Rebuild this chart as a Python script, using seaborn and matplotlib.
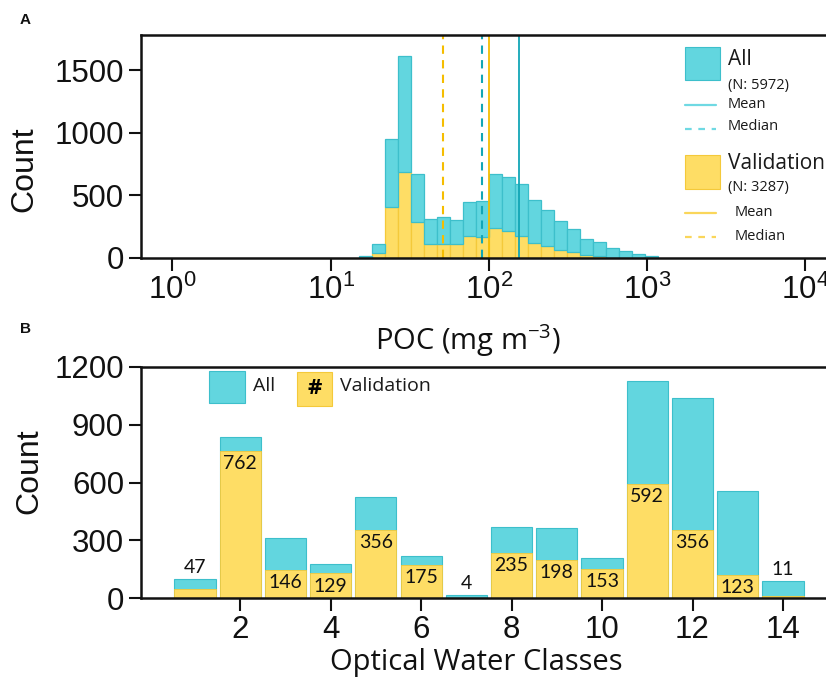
import matplotlib
matplotlib.use("Agg")
import matplotlib.pyplot as plt
from matplotlib.patches import Rectangle
import seaborn as sns
import numpy as np
import pandas as pd

# --- panel A: POC histogram (stacked, log bins) ---
poc_bin_edges = list(10 ** (2 + 0.082 * np.arange(-10, 14)))
all_counts = [16, 72, 548, 929, 383, 199, 215, 194, 274, 290, 436, 436,
              417, 340, 290, 234, 181, 130, 109, 80, 51, 29, 13]
val_counts = [0, 37, 402, 686, 285, 112, 112, 106, 173, 162, 237, 210,
              176, 120, 90, 59, 45, 19, 16, 0, 0, 0, 0]
n_all, n_val = 5972, 3287
all_mean, all_median = 154, 90
val_mean, val_median = 100, 51

# --- panel B: optical water classes ---
owc = np.arange(1, 15)
owc_all = [102, 838, 312, 176, 523, 217, 18, 372, 367, 208, 1128, 1038, 557, 90]
owc_val = [47, 762, 146, 129, 356, 175, 4, 235, 198, 153, 592, 356, 123, 11]

cyan = "#62d6df"
cyan_edge = "#3dbfcb"
cyan_line = "#12a6b6"
yellow = "#fedd65"
yellow_edge = "#f4c93a"
yellow_line = "#f5bd00"
ink = "#111111"

sns.set_style("ticks")
plt.rcParams["font.family"] = ["Liberation Sans", "DejaVu Sans"]
plt.rcParams["mathtext.fontset"] = "custom"
plt.rcParams["mathtext.rm"] = "Open Sans"
plt.rcParams["text.color"] = ink
plt.rcParams["axes.labelcolor"] = ink
plt.rcParams["xtick.color"] = ink
plt.rcParams["ytick.color"] = ink

fig = plt.figure(figsize=(8.26, 6.79), dpi=100)
ax1 = fig.add_axes([0.1703, 0.6205, 0.8297, 0.328])
ax2 = fig.add_axes([0.1703, 0.1188, 0.8297, 0.3411])

edges = np.array(poc_bin_edges)
centers = np.sqrt(edges[:-1] * edges[1:])
hist_df = pd.DataFrame({
    "poc": np.concatenate([centers, centers]),
    "count": np.concatenate([all_counts, val_counts]).astype(float),
    "group": ["All"] * len(centers) + ["Validation"] * len(centers),
})
sns.histplot(data=hist_df, x="poc", weights="count", hue="group",
             hue_order=["All", "Validation"], multiple="stack",
             bins=poc_bin_edges, palette={"All": cyan, "Validation": yellow},
             alpha=1, linewidth=0.9, legend=False, ax=ax1)
for p in ax1.patches:
    r, g, b, _ = p.get_facecolor()
    p.set_edgecolor(cyan_edge if b > 0.6 else yellow_edge)

ax1.set_xscale("log")
ax1.set_xlim(10 ** -0.2, 10 ** 4.13)
ax1.set_ylim(0, 1784)
ax1.set_yticks([0, 500, 1000, 1500])
ax1.set_xticks([1, 10, 100, 1000, 10000])
ax1.minorticks_off()

ax1.axvline(all_mean, color=cyan_line, lw=1.3)
ax1.axvline(all_median, color=cyan_line, lw=1.5, ls=(0, (4, 3)))
ax1.axvline(val_mean, color=yellow_line, lw=1.3)
ax1.axvline(val_median, color=yellow_line, lw=1.5, ls=(0, (4, 3)))

ax1.set_xlabel("POC (mg m$^{\\mathregular{-3}}$)", fontsize=21,
               fontfamily="Open Sans", va="top")
ax1.xaxis.set_label_coords(0.478, -0.29)
ax1.set_ylabel("Count", fontsize=23, va="center")
ax1.yaxis.set_label_coords(-0.169, 0.398)

# legend of panel A, drawn by hand
T = ax1.transAxes
ax1.add_patch(Rectangle((0.7943, 0.798), 0.051, 0.148, transform=T,
                        facecolor=cyan, edgecolor=cyan_edge, lw=0.8))
ax1.add_patch(Rectangle((0.7943, 0.308), 0.051, 0.153, transform=T,
                        facecolor=yellow, edgecolor=yellow_edge, lw=0.8))
ax1.plot([0.7943, 0.8395], [0.684, 0.684], transform=T, color="#6fd9e3", lw=1.6)
ax1.plot([0.7943, 0.8395], [0.577, 0.577], transform=T, color="#6fd9e3", lw=1.6,
         ls=(0, (3, 3)))
ax1.plot([0.7943, 0.8395], [0.202, 0.202], transform=T, color="#fad65a", lw=1.6)
ax1.plot([0.7943, 0.8395], [0.094, 0.094], transform=T, color="#fad65a", lw=1.6,
         ls=(0, (3, 3)))
leg_txt = [
    (0.857, 0.888, "All", 15),
    (0.857, 0.773, f"(N: {n_all})", 10.5),
    (0.857, 0.686, "Mean", 10.5),
    (0.857, 0.587, "Median", 10.5),
    (0.857, 0.421, "Validation", 15),
    (0.857, 0.317, f"(N: {n_val})", 10.5),
    (0.866, 0.205, "Mean", 10.5),
    (0.866, 0.097, "Median", 10.5),
]
for x, y, s, fs in leg_txt:
    ax1.text(x, y, s, transform=T, fontsize=fs, fontfamily="Open Sans",
             ha="left", va="center", color="#1a1a1a")

# --- panel B ---
sns.barplot(x=owc, y=owc_all, native_scale=True, color=cyan, width=0.91,
            edgecolor=cyan_edge, linewidth=0.8, saturation=1, ax=ax2)
sns.barplot(x=owc, y=owc_val, native_scale=True, color=yellow, width=0.91,
            edgecolor=yellow_edge, linewidth=0.6, saturation=1, ax=ax2)

for c, tot, v in zip(owc, owc_all, owc_val):
    if v < 50:
        ax2.annotate(str(v), (c, tot), xytext=(0, 2), textcoords="offset points",
                     ha="center", va="bottom", fontsize=14, fontfamily="Lato")
    else:
        ax2.annotate(str(v), (c, v), xytext=(0, -3), textcoords="offset points",
                     ha="center", va="top", fontsize=14, fontfamily="Lato")

ax2.set_xlim(-0.2, 14.95)
ax2.set_ylim(0, 1200)
ax2.set_yticks([0, 300, 600, 900, 1200])
ax2.set_xticks([2, 4, 6, 8, 10, 12, 14])
ax2.set_xlabel("Optical Water Classes", fontsize=21, fontfamily="Open Sans",
               va="top")
ax2.xaxis.set_label_coords(0.489, -0.215)
ax2.set_ylabel("Count", fontsize=23, va="center")
ax2.yaxis.set_label_coords(-0.162, 0.55)

T2 = ax2.transAxes
ax2.add_patch(Rectangle((0.100, 0.842), 0.052, 0.139, transform=T2,
                        facecolor=cyan, edgecolor=cyan_edge, lw=0.8))
ax2.add_patch(Rectangle((0.2285, 0.8316), 0.051, 0.147, transform=T2,
                        facecolor=yellow, edgecolor=yellow_edge, lw=0.8))
ax2.text(0.164, 0.917, "All", transform=T2, fontsize=14, fontfamily="Open Sans",
         ha="left", va="center", color="#1a1a1a")
ax2.text(0.254, 0.905, "#", transform=T2, fontsize=16, fontfamily="Open Sans",
         fontweight="bold", ha="center", va="center", color="black")
ax2.text(0.291, 0.917, "Validation", transform=T2, fontsize=14,
         fontfamily="Open Sans", ha="left", va="center", color="#1a1a1a")

for ax in (ax1, ax2):
    ax.spines["right"].set_visible(False)
    for s in ("left", "bottom", "top"):
        ax.spines[s].set_linewidth(1.8)
        ax.spines[s].set_color(ink)
    ax.tick_params(axis="both", which="major", labelsize=22.5, length=9,
                   width=1.5, pad=3, color=ink, labelcolor=ink)
    ax.set_facecolor("white")

fig.text(20 / 826, 1 - 20 / 679, "A", fontsize=11, fontweight="bold", va="center")
fig.text(20 / 826, 1 - 329 / 679, "B", fontsize=11, fontweight="bold", va="center")

fig.savefig("out.png", dpi=100, facecolor="white")
